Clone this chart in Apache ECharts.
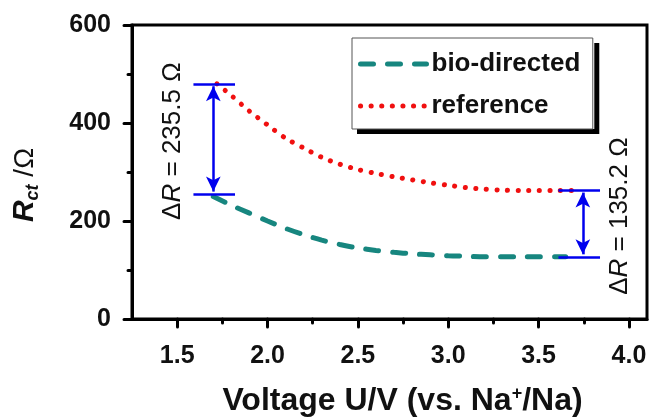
<!DOCTYPE html>
<html>
<head>
<meta charset="utf-8">
<script src="https://cdn.jsdelivr.net/npm/echarts@6/dist/echarts.min.js"></script>
<style>
html,body{margin:0;padding:0;background:#fff;}
#c{width:652px;height:419px;}
</style>
</head>
<body>
<div id="c"></div>
<script>
// ---- data ----
const bioV   = [1.70, 1.80, 1.90, 2.00, 2.10, 2.20, 2.30, 2.40, 2.50, 2.60, 2.70, 2.80, 2.90, 3.00, 3.10, 3.20, 3.30, 3.40, 3.50, 3.60, 3.65];
const bioR   = [250, 232, 216, 200, 185, 172, 161, 152, 145, 140, 136, 133, 131, 129, 128, 127, 127, 127, 127, 127, 127];
const refV   = [1.72, 1.80, 1.90, 2.00, 2.10, 2.20, 2.30, 2.40, 2.50, 2.60, 2.70, 2.80, 2.90, 3.00, 3.10, 3.20, 3.30, 3.40, 3.50, 3.60, 3.72];
const refR   = [480, 456, 424, 396, 369, 349, 330, 316, 305, 297, 290, 284, 278, 273, 268, 265, 263, 262, 262, 262, 262];
const xMajor = [1.5, 2.0, 2.5, 3.0, 3.5, 4.0];
const xMinor = [1.75, 2.25, 2.75, 3.25, 3.75];
const seriesNames = ['bio-directed', 'reference'];
// annotation: [xStart, xEnd, xArrow, yLow, yHigh]
const leftDelta  = [1.59, 1.82, 1.70, 255, 480];
const rightDelta = [3.61, 3.84, 3.745, 127, 263];
const leftLabel  = 'ΔR = 235.5 Ω';
const rightLabel = 'ΔR = 135.2 Ω';
const leftLabelAt  = [1.477, 363];
const rightLabelAt = [3.95, 210];

const pair = (xs, ys) => xs.map((x, i) => [x, ys[i]]);

function deltaLines(d) {
  const [x0, x1, xa, lo, hi] = d;
  const bar = { symbol: 'none' };
  const arr = { symbol: 'arrow', symbolSize: [11, 15] };
  return [
    [Object.assign({ coord: [x0, hi] }, bar), Object.assign({ coord: [x1, hi] }, bar)],
    [Object.assign({ coord: [x0, lo] }, bar), Object.assign({ coord: [x1, lo] }, bar)],
    [Object.assign({ coord: [xa, lo + 5] }, arr), Object.assign({ coord: [xa, hi - 5] }, arr)]
  ];
}

const FONT = 'Liberation Sans';
const TEAL = '#17867f';
const RED = '#f01010';
const bioLine = { color: TEAL, width: 5, type: [13, 14], cap: 'round' };
const refLine = { color: RED, width: 5, type: [0.1, 10.5], cap: 'round' };

const legendItems = [
  { name: seriesNames[0], lineStyle: bioLine },
  { name: seriesNames[1], lineStyle: refLine }
];

const legendBase = {
  orient: 'vertical',
  left: 352, top: 38,
  itemWidth: 66, itemHeight: 24, itemGap: 16,
  padding: [13, 14, 10, 6],
  selectedMode: false,
  textStyle: { fontSize: 26, fontWeight: 'bold', color: '#111', fontFamily: FONT },
  itemStyle: { opacity: 0 }
};

const chart = echarts.init(document.getElementById('c'), null, { renderer: 'canvas' });

const option = {
  animation: false,
  backgroundColor: '#fff',
  grid: {
    left: 132, right: 5, top: 25, bottom: 100,
    outerBoundsMode: 'none', containLabel: false,
    show: true, borderColor: '#000', borderWidth: 3, backgroundColor: 'transparent'
  },
  legend: [
    Object.assign({}, legendBase, {
      data: legendItems,
      backgroundColor: '#fff', borderWidth: 0,
      shadowColor: '#000', shadowBlur: 0, shadowOffsetX: 5, shadowOffsetY: 5
    }),
    Object.assign({}, legendBase, {
      data: seriesNames,
      backgroundColor: 'transparent', borderColor: '#555', borderWidth: 1,
      textStyle: Object.assign({}, legendBase.textStyle, { color: 'rgba(0,0,0,0)' }),
      lineStyle: { opacity: 0 }
    })
  ],
  xAxis: [{
    type: 'value', min: 1.25, max: 4.1, interval: 0.25,
    axisLine: { lineStyle: { color: '#000', width: 3 } },
    axisTick: { length: 8, lineStyle: { color: '#000', width: 3, cap: 'round' }, customValues: xMajor },
    axisLabel: { customValues: xMajor, formatter: v => v.toFixed(1), fontSize: 25, fontWeight: 'bold', color: '#111', margin: 25, fontFamily: FONT },
    splitLine: { show: false },
    name: '{n|Voltage U/V (vs. Na}{s|+}{n|/Na)}',
    nameLocation: 'middle', nameGap: 66,
    nameTextStyle: {
      padding: [0, 0, 0, 26],
      rich: {
        n: { fontSize: 32, fontWeight: 'bold', color: '#111', fontFamily: FONT },
        s: { fontSize: 18, fontWeight: 'bold', color: '#111', fontFamily: FONT, verticalAlign: 'top', padding: [0, 0, 14, 0] }
      }
    }
  }, {
    type: 'value', min: 1.25, max: 4.1, interval: 0.25, position: 'bottom', gridIndex: 0,
    axisLine: { show: false },
    axisTick: { length: 4, lineStyle: { color: '#000', width: 3, cap: 'round' }, customValues: xMinor },
    axisLabel: { show: false },
    splitLine: { show: false }
  }],
  yAxis: {
    type: 'value', min: 0, max: 600, interval: 200,
    axisLine: { show: true, lineStyle: { color: '#000', width: 3 } },
    axisTick: { show: true, length: 8, lineStyle: { color: '#000', width: 3, cap: 'round' } },
    minorTick: { show: true, splitNumber: 2, length: 4, lineStyle: { color: '#000', width: 3, cap: 'round' } },
    axisLabel: { fontSize: 25, fontWeight: 'bold', color: '#111', margin: 21, fontFamily: FONT },
    splitLine: { show: false },
    name: '{r|R}{s|ct}{o| /Ω}',
    nameLocation: 'middle', nameGap: 90, nameRotate: 90,
    nameTextStyle: {
      padding: [0, 26, 0, 0],
      rich: {
        r: { fontSize: 30, fontWeight: 'bold', fontStyle: 'italic', color: '#111', fontFamily: FONT, lineHeight: 34 },
        s: { fontSize: 18, fontWeight: 'bold', fontStyle: 'italic', color: '#111', fontFamily: FONT, verticalAlign: 'bottom', lineHeight: 34, padding: [12, 0, 0, 0] },
        o: { fontSize: 28, color: '#111', fontFamily: FONT, lineHeight: 34 }
      }
    }
  },
  series: [{
    name: seriesNames[0], type: 'line', data: pair(bioV, bioR),
    smooth: 0.3, symbol: 'none', showSymbol: false,
    lineStyle: bioLine,
    itemStyle: { color: TEAL },
    z: 3,
    markLine: {
      silent: true, symbol: 'none', animation: false,
      label: { show: false },
      lineStyle: { color: '#0000ee', width: 2.5, type: 'solid' },
      emphasis: { disabled: true },
      data: deltaLines(leftDelta).concat(deltaLines(rightDelta))
    }
  }, {
    name: seriesNames[1], type: 'line', data: pair(refV, refR),
    smooth: 0.3, symbol: 'none', showSymbol: false,
    lineStyle: refLine,
    itemStyle: { color: RED },
    z: 2
  }]
};
chart.setOption(option);

function deltaText(label, at) {
  const p = chart.convertToPixel({ gridIndex: 0 }, at);
  return {
    type: 'text', x: p[0], y: p[1], rotation: Math.PI / 2, silent: true,
    style: {
      text: '{d|' + label.replace('R', '}{i|R}{d|') + '}',
      align: 'center', verticalAlign: 'middle',
      rich: {
        d: { fontSize: 26, fontFamily: FONT, fill: '#111' },
        i: { fontSize: 26, fontFamily: FONT, fontStyle: 'italic', fill: '#111' }
      }
    }
  };
}
chart.setOption({ graphic: [deltaText(leftLabel, leftLabelAt), deltaText(rightLabel, rightLabelAt)] });
</script>
</body>
</html>
